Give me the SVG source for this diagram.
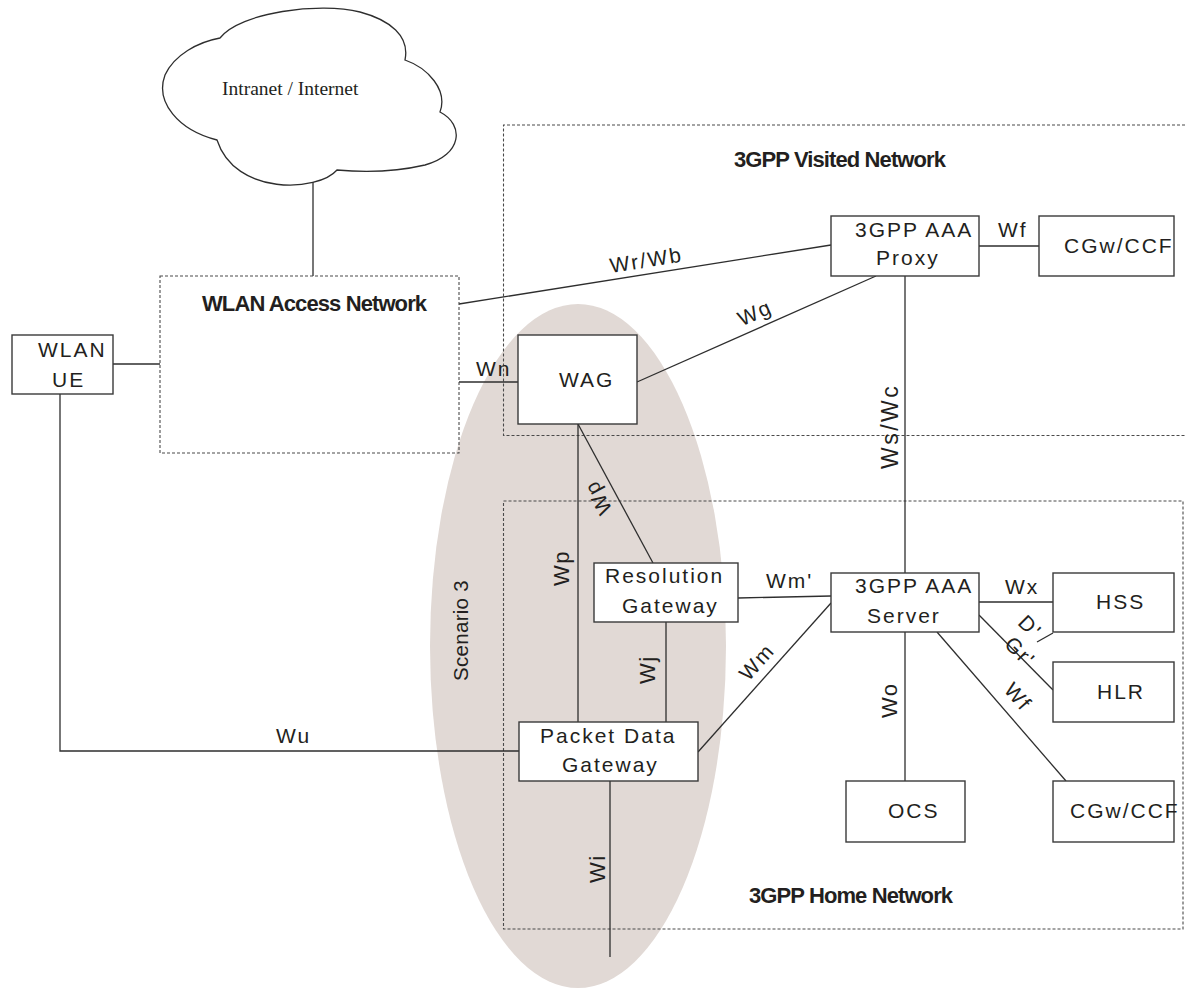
<svg xmlns="http://www.w3.org/2000/svg" width="1185" height="989" viewBox="0 0 1185 989">
<style>
.bg{fill:#ffffff}
.box{fill:#ffffff;stroke:#3a3a3a;stroke-width:1.4}
.dash{fill:none;stroke:#4a4a4a;stroke-width:1.1;stroke-dasharray:3,2}
.ln{fill:none;stroke:#2e2e2e;stroke-width:1.3}
.t{font-family:"Liberation Sans",Arial,sans-serif;font-size:21px;letter-spacing:2px;fill:#231f20}
.r{font-family:"Liberation Sans",Arial,sans-serif;font-size:22px;letter-spacing:1.5px;fill:#231f20}
.b{font-family:"Liberation Sans",Arial,sans-serif;font-size:22px;font-weight:bold;letter-spacing:-0.9px;fill:#231f20}
.s{font-family:"Liberation Serif","Times New Roman",serif;font-size:19.5px;fill:#231f20}
</style>
<rect class="bg" x="0" y="0" width="1185" height="989"/>

<g id="scenario3">
<ellipse cx="578" cy="646" rx="148" ry="342" fill="#e1d9d5"/>
<text class="r" style="letter-spacing:0.3px;font-size:20.5px" x="468" y="681" transform="rotate(-90 468 681)">Scenario 3</text>
</g>

<g id="areas">
<path class="dash" d="M1190,125 H503.5 V435.5 H1190"/>
<text class="b" x="734" y="167">3GPP Visited Network</text>
<rect class="dash" x="503.5" y="501" width="679.5" height="428"/>
<text class="b" x="749" y="903">3GPP Home Network</text>
</g>

<g id="connectors">
<line class="ln" x1="313" y1="182" x2="313" y2="276"/>
<line class="ln" x1="113" y1="364" x2="160" y2="364"/>
<polyline class="ln" points="60,394 60,751 519,751"/>
<line class="ln" x1="459" y1="304" x2="831" y2="245"/>
<line class="ln" x1="459" y1="382" x2="518" y2="382"/>
<line class="ln" x1="637" y1="382" x2="876" y2="276"/>
<line class="ln" x1="979" y1="246" x2="1039" y2="246"/>
<line class="ln" x1="905" y1="276" x2="905" y2="573"/>
<line class="ln" x1="578" y1="424" x2="578" y2="722"/>
<line class="ln" x1="578" y1="424" x2="653" y2="563"/>
<line class="ln" x1="666" y1="622" x2="666" y2="722"/>
<line class="ln" x1="738" y1="598" x2="831" y2="596"/>
<line class="ln" x1="831" y1="603" x2="698" y2="752"/>
<line class="ln" x1="979" y1="602" x2="1053" y2="602"/>
<line class="ln" x1="979" y1="615" x2="1053" y2="690"/>
<line class="ln" x1="1037" y1="642" x2="1053" y2="633"/>
<line class="ln" x1="905" y1="632" x2="905" y2="781"/>
<line class="ln" x1="937" y1="632" x2="1066" y2="781"/>
<line class="ln" x1="610" y1="781" x2="610" y2="957"/>

<text class="t" x="611" y="273" transform="rotate(-9 611 273)">Wr/Wb</text>
<text class="t" x="476" y="376">Wn</text>
<text class="t" text-anchor="middle" x="0" y="7" transform="translate(755 313) rotate(-24)">Wg</text>
<text class="t" x="998" y="237">Wf</text>
<text class="r" style="font-size:23px;letter-spacing:2.5px" x="898" y="469" transform="rotate(-90 898 469)">Ws/Wc</text>
<text class="r" x="569" y="586" transform="rotate(-90 569 586)">Wp</text>
<text class="t" text-anchor="middle" x="0" y="6" transform="translate(599 497) rotate(-118.4)">Wp</text>
<text class="r" x="655" y="684" transform="rotate(-90 655 684)">Wj</text>
<text class="t" x="766" y="588">Wm'</text>
<text class="t" text-anchor="middle" x="0" y="7" transform="translate(757 662) rotate(-48.2)">Wm</text>
<text class="t" x="1005" y="594">Wx</text>
<text class="t" text-anchor="middle" x="0" y="7" transform="translate(1030 627) rotate(45)">D'</text>
<text class="t" text-anchor="middle" x="0" y="7" transform="translate(1020 652) rotate(45)">Gr'</text>
<text class="t" text-anchor="middle" x="0" y="7" transform="translate(1018 697) rotate(49)">Wf</text>
<text class="r" x="897" y="718" transform="rotate(-90 897 718)">Wo</text>
<text class="r" x="605" y="883" transform="rotate(-90 605 883)">Wi</text>
<text class="t" x="276" y="743">Wu</text>
</g>

<g id="internet">
<path fill="#ffffff" stroke="#2e2e2e" stroke-width="1.3" d="M220,38 C240,12 320,2 360,12 C390,20 410,36 405,60 C428,68 448,90 440,112 C465,125 462,155 425,165 C395,172 360,172 337,170 C318,192 235,196 217,140 C178,130 155,102 165,75 C174,55 198,42 220,38 Z"/>
<text class="s" x="222" y="95">Intranet / Internet</text>
</g>

<g id="wlan-an">
<rect class="dash" x="160" y="276" width="299" height="177"/>
<text class="b" x="202" y="311">WLAN Access Network</text>
</g>

<g id="wlan-ue">
<rect class="box" x="12" y="335" width="101" height="59"/>
<text class="t" x="38" y="357">WLAN</text>
<text class="t" x="52" y="387">UE</text>
</g>

<g id="aaa-proxy">
<rect class="box" x="831" y="216" width="148" height="60"/>
<text class="t" x="855" y="237">3GPP AAA</text>
<text class="t" x="876" y="265">Proxy</text>
</g>

<g id="cgw-visited">
<rect class="box" x="1039" y="216" width="135" height="60"/>
<text class="t" x="1064" y="253">CGw/CCF</text>
</g>

<g id="wag">
<rect class="box" x="518" y="335" width="119" height="89"/>
<text class="t" x="559" y="387">WAG</text>
</g>

<g id="resolution-gateway">
<rect class="box" x="594" y="563" width="144" height="59"/>
<text class="t" x="605" y="583">Resolution</text>
<text class="t" x="622" y="613">Gateway</text>
</g>

<g id="aaa-server">
<rect class="box" x="831" y="573" width="148" height="59"/>
<text class="t" x="855" y="593">3GPP AAA</text>
<text class="t" x="867" y="623">Server</text>
</g>

<g id="hss">
<rect class="box" x="1053" y="573" width="121" height="59"/>
<text class="t" x="1096" y="609">HSS</text>
</g>

<g id="hlr">
<rect class="box" x="1053" y="662" width="121" height="60"/>
<text class="t" x="1097" y="699">HLR</text>
</g>

<g id="ocs">
<rect class="box" x="846" y="781" width="119" height="61"/>
<text class="t" x="888" y="818">OCS</text>
</g>

<g id="cgw-home">
<rect class="box" x="1053" y="781" width="121" height="61"/>
<text class="t" x="1070" y="818">CGw/CCF</text>
</g>

<g id="pdg">
<rect class="box" x="519" y="722" width="179" height="59"/>
<text class="t" x="540" y="743">Packet Data</text>
<text class="t" x="562" y="772">Gateway</text>
</g>
</svg>
